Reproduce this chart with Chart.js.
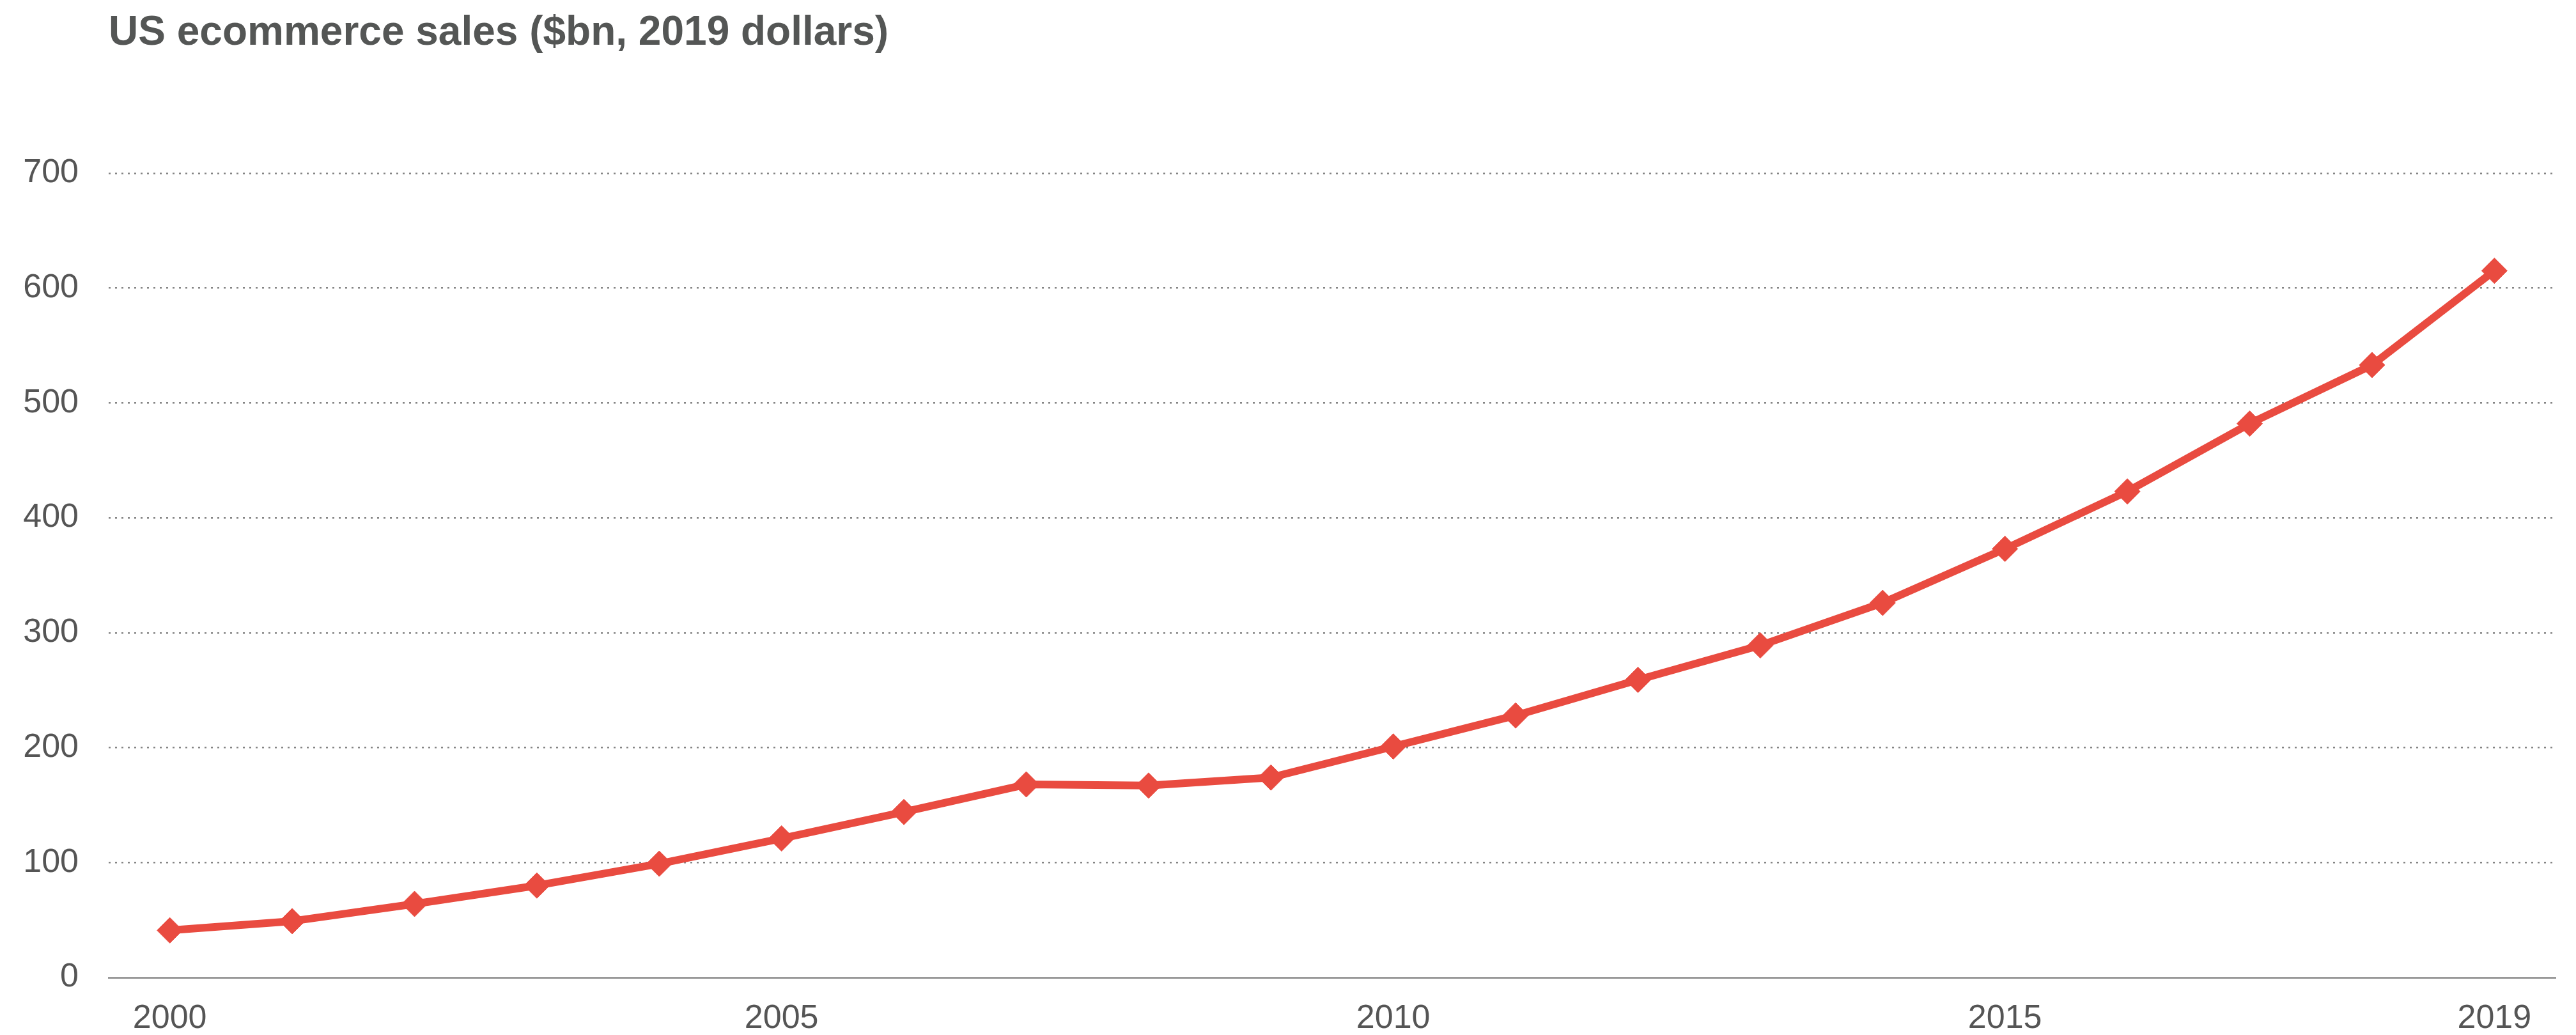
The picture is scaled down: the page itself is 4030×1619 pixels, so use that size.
<!DOCTYPE html>
<html>
<head>
<meta charset="utf-8">
<title>US ecommerce sales</title>
<script src="https://cdn.jsdelivr.net/npm/chart.js@4/dist/chart.umd.min.js"></script>
<style>
    html, body { margin: 0; padding: 0; background: #fff; }
    #salesCanvas { display: block; }
</style>
</head>
<body>
<canvas id="salesCanvas" width="4030" height="1619"></canvas>
<script>
// Yearly values ($bn, 2019 dollars)
const years = ['2000', '2001', '2002', '2003', '2004', '2005', '2006', '2007', '2008', '2009',
               '2010', '2011', '2012', '2013', '2014', '2015', '2016', '2017', '2018', '2019'];
const sales = [41, 49, 64, 80, 99, 121, 144, 168, 167, 174,
               201, 228, 259, 289, 326, 373, 423, 482, 533, 615];
const yearTicks = ['2000', '2005', '2010', '2015', '2019'];
const valueTicks = [0, 100, 200, 300, 400, 500, 600, 700];

const TEXT_COLOR = '#555555';
const LINE_COLOR = '#e94b40';
const FONT = '"Liberation Sans", Arial, Helvetica, sans-serif';

const ctx = document.getElementById('salesCanvas');

new Chart(ctx, {
    type: 'line',
    data: {
        labels: years,
        datasets: [{
            label: 'US ecommerce sales',
            data: sales,
            borderColor: LINE_COLOR,
            backgroundColor: LINE_COLOR,
            borderWidth: 12,
            borderJoinStyle: 'round',
            tension: 0,
            pointStyle: 'rectRot',
            pointRadius: 20,
            pointBorderWidth: 1,
            pointBackgroundColor: LINE_COLOR,
            pointBorderColor: LINE_COLOR
        }]
    },
    options: {
        responsive: false,
        animation: false,
        layout: {
            padding: { left: 0, right: 32, top: 0, bottom: 0 }
        },
        plugins: {
            legend: { display: false },
            tooltip: { enabled: false },
            title: {
                display: true,
                text: 'US ecommerce sales ($bn, 2019 dollars)',
                align: 'start',
                fullSize: false,
                color: '#545655',
                font: { family: FONT, size: 64, weight: 'bold' },
                padding: { top: 14, bottom: 180 }
            }
        },
        scales: {
            x: {
                offset: true,
                grid: { display: false, drawTicks: false },
                border: { display: true, color: '#999999', width: 3 },
                ticks: {
                    autoSkip: false,
                    maxRotation: 0,
                    padding: 33,
                    color: TEXT_COLOR,
                    font: { family: FONT, size: 52 },
                    callback: function(value) {
                        const year = this.getLabelForValue(value);
                        return yearTicks.includes(year) ? year : '';
                    }
                },
                afterFit: function(scale) {
                    scale.height = 90;
                }
            },
            y: {
                min: valueTicks[0],
                max: valueTicks[valueTicks.length - 1],
                afterBuildTicks: function(scale) {
                    scale.ticks = valueTicks.map(v => ({ value: v }));
                },
                grid: {
                    drawTicks: false,
                    lineWidth: 2.5,
                    color: function(context) {
                        return context.tick && context.tick.value === 0 ? 'rgba(0,0,0,0)' : '#858585';
                    }
                },
                border: { display: false, dash: [3, 7] },
                ticks: {
                    padding: 47,
                    color: TEXT_COLOR,
                    font: { family: FONT, size: 52 }
                },
                afterFit: function(scale) {
                    scale.width = 170;
                }
            }
        }
    }
});
</script>
</body>
</html>
